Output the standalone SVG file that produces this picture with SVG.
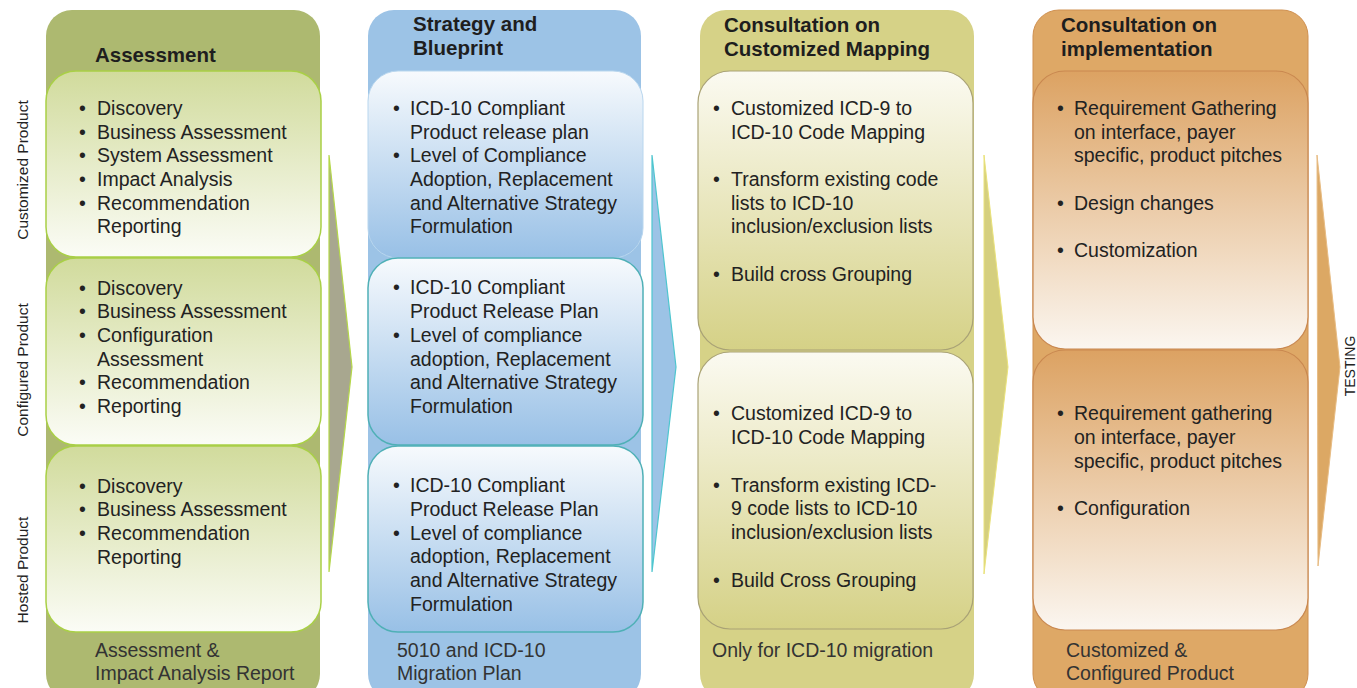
<svg xmlns="http://www.w3.org/2000/svg" width="1357" height="688" viewBox="0 0 1357 688">
<defs>
<linearGradient id="gGreen" x1="0" y1="0" x2="0" y2="1"><stop offset="0" stop-color="#d1db9c"/><stop offset="1" stop-color="#fbfcf6"/></linearGradient>
<linearGradient id="gBlue" x1="0" y1="0" x2="0" y2="1"><stop offset="0" stop-color="#f7fafd"/><stop offset="1" stop-color="#98c0e6"/></linearGradient>
<linearGradient id="gOlive" x1="0" y1="0" x2="0" y2="1"><stop offset="0" stop-color="#fbfaf1"/><stop offset="1" stop-color="#d5d186"/></linearGradient>
<linearGradient id="gOrange" x1="0" y1="0" x2="0" y2="1"><stop offset="0" stop-color="#dca262"/><stop offset="1" stop-color="#fbf6f0"/></linearGradient>
</defs>
<style>
.hd{font-family:"Liberation Sans",Arial,sans-serif;font-weight:bold;font-size:20.5px;fill:#1e1e1e}
.tx{font-family:"Liberation Sans",Arial,sans-serif;font-size:19.5px;fill:#222}
.ft{font-family:"Liberation Sans",Arial,sans-serif;font-size:19.5px;fill:#333}
.side{font-family:"Liberation Sans",Arial,sans-serif;font-size:15.5px;fill:#222}
.cG{fill:url(#gGreen);stroke:#a9d046;stroke-width:1.5}
.cB{fill:url(#gBlue);stroke:#4fb0b6;stroke-width:1.5}
.cB0{fill:url(#gBlue);stroke:#b8d6ee;stroke-width:1}
.cO{fill:url(#gOlive);stroke:#a9a276;stroke-width:1.2}
.cR{fill:url(#gOrange);stroke:#c98850;stroke-width:1.2}
</style>
<rect width="1357" height="688" fill="#ffffff"/>

<g id="side-labels">
<text class="side" transform="translate(28,170) rotate(-90)" text-anchor="middle">Customized Product</text>
<text class="side" transform="translate(28,370) rotate(-90)" text-anchor="middle">Configured Product</text>
<text class="side" transform="translate(28,570) rotate(-90)" text-anchor="middle">Hosted Product</text>
<text class="side" transform="translate(1355,366) rotate(-90)" text-anchor="middle" style="font-size:14px">TESTING</text>
</g>

<g id="connectors">
<polygon points="329,155 352,367 329,572" fill="#a8a78f" stroke="#b5d84a" stroke-width="1.2"/>
<polygon points="652,155 676,367 652,572" fill="#9cc3e6" stroke="#4ec6cf" stroke-width="1.2"/>
<polygon points="984,155 1008,367 984,574" fill="#d5cf7e" stroke="#e9e27a" stroke-width="1"/>
<polygon points="1317,155 1340,367 1318,566" fill="#dca864" stroke="#e7bc84" stroke-width="1"/>
</g>

<g id="col-assessment">
<rect x="46" y="10" width="274" height="690" rx="26" fill="#adb970"/>
<text class="hd" x="95" y="62">Assessment</text>
<g id="assess-customized">
<rect class="cG" x="46" y="71" width="275" height="186" rx="30"/>
<text class="tx"><tspan x="79" y="115">•</tspan><tspan x="97" y="115">Discovery</tspan><tspan x="79" y="139">•</tspan><tspan x="97" y="139">Business Assessment</tspan><tspan x="79" y="162">•</tspan><tspan x="97" y="162">System Assessment</tspan><tspan x="79" y="186">•</tspan><tspan x="97" y="186">Impact Analysis</tspan><tspan x="79" y="210">•</tspan><tspan x="97" y="210">Recommendation</tspan><tspan x="97" y="233">Reporting</tspan></text>
</g>
<g id="assess-configured">
<rect class="cG" x="46" y="258" width="275" height="187" rx="30"/>
<text class="tx"><tspan x="79" y="295">•</tspan><tspan x="97" y="295">Discovery</tspan><tspan x="79" y="318">•</tspan><tspan x="97" y="318">Business Assessment</tspan><tspan x="79" y="342">•</tspan><tspan x="97" y="342">Configuration</tspan><tspan x="97" y="366">Assessment</tspan><tspan x="79" y="389">•</tspan><tspan x="97" y="389">Recommendation</tspan><tspan x="79" y="413">•</tspan><tspan x="97" y="413">Reporting</tspan></text>
</g>
<g id="assess-hosted">
<rect class="cG" x="46" y="446" width="275" height="186" rx="30"/>
<text class="tx"><tspan x="79" y="493">•</tspan><tspan x="97" y="493">Discovery</tspan><tspan x="79" y="516">•</tspan><tspan x="97" y="516">Business Assessment</tspan><tspan x="79" y="540">•</tspan><tspan x="97" y="540">Recommendation</tspan><tspan x="97" y="564">Reporting</tspan></text>
</g>
<text class="ft"><tspan x="95" y="657">Assessment &amp;</tspan><tspan x="95" y="680">Impact Analysis Report</tspan></text>
</g>

<g id="col-strategy">
<rect x="368" y="10" width="273" height="690" rx="26" fill="#9cc3e6"/>
<text class="hd"><tspan x="413" y="31">Strategy and</tspan><tspan x="413" y="55">Blueprint</tspan></text>
<g id="strategy-customized">
<rect class="cB0" x="368" y="71" width="275" height="187" rx="30"/>
<text class="tx"><tspan x="393" y="115">•</tspan><tspan x="410" y="115">ICD-10 Compliant</tspan><tspan x="410" y="139">Product release plan</tspan><tspan x="393" y="162">•</tspan><tspan x="410" y="162">Level of Compliance</tspan><tspan x="410" y="186">Adoption, Replacement</tspan><tspan x="410" y="210">and Alternative Strategy</tspan><tspan x="410" y="233">Formulation</tspan></text>
</g>
<g id="strategy-configured">
<rect class="cB" x="368" y="258" width="275" height="187" rx="30"/>
<text class="tx"><tspan x="393" y="294">•</tspan><tspan x="410" y="294">ICD-10 Compliant</tspan><tspan x="410" y="318">Product Release Plan</tspan><tspan x="393" y="342">•</tspan><tspan x="410" y="342">Level of compliance</tspan><tspan x="410" y="366">adoption, Replacement</tspan><tspan x="410" y="389">and Alternative Strategy</tspan><tspan x="410" y="413">Formulation</tspan></text>
</g>
<g id="strategy-hosted">
<rect class="cB" x="368" y="446" width="275" height="186" rx="30"/>
<text class="tx"><tspan x="393" y="492">•</tspan><tspan x="410" y="492">ICD-10 Compliant</tspan><tspan x="410" y="516">Product Release Plan</tspan><tspan x="393" y="540">•</tspan><tspan x="410" y="540">Level of compliance</tspan><tspan x="410" y="563">adoption, Replacement</tspan><tspan x="410" y="587">and Alternative Strategy</tspan><tspan x="410" y="611">Formulation</tspan></text>
</g>
<text class="ft"><tspan x="397" y="657">5010 and ICD-10</tspan><tspan x="397" y="680">Migration Plan</tspan></text>
</g>

<g id="col-mapping">
<rect x="700" y="10" width="274" height="690" rx="26" fill="#d6d287"/>
<text class="hd"><tspan x="724" y="32">Consultation on</tspan><tspan x="724" y="56">Customized Mapping</tspan></text>
<g id="mapping-customized">
<rect class="cO" x="698" y="71" width="275" height="279" rx="32"/>
<text class="tx"><tspan x="713" y="115">•</tspan><tspan x="731" y="115">Customized ICD-9 to</tspan><tspan x="731" y="139">ICD-10 Code Mapping</tspan><tspan x="713" y="186">•</tspan><tspan x="731" y="186">Transform existing code</tspan><tspan x="731" y="210">lists to ICD-10</tspan><tspan x="731" y="233">inclusion/exclusion lists</tspan><tspan x="713" y="281">•</tspan><tspan x="731" y="281">Build cross Grouping</tspan></text>
</g>
<g id="mapping-configured">
<rect class="cO" x="698" y="352" width="275" height="277" rx="32"/>
<text class="tx"><tspan x="713" y="420">•</tspan><tspan x="731" y="420">Customized ICD-9 to</tspan><tspan x="731" y="444">ICD-10 Code Mapping</tspan><tspan x="713" y="492">•</tspan><tspan x="731" y="492">Transform existing ICD-</tspan><tspan x="731" y="515">9 code lists to ICD-10</tspan><tspan x="731" y="539">inclusion/exclusion lists</tspan><tspan x="713" y="587">•</tspan><tspan x="731" y="587">Build Cross Grouping</tspan></text>
</g>
<text class="ft" x="712" y="657">Only for ICD-10 migration</text>
</g>

<g id="col-implementation">
<rect x="1033" y="10" width="275" height="690" rx="26" fill="#dea866" stroke="#cf9050" stroke-width="1"/>
<text class="hd"><tspan x="1061" y="32">Consultation on</tspan><tspan x="1061" y="56">implementation</tspan></text>
<g id="impl-customized">
<rect class="cR" x="1033" y="71" width="275" height="278" rx="32"/>
<text class="tx"><tspan x="1057" y="115">•</tspan><tspan x="1074" y="115">Requirement Gathering</tspan><tspan x="1074" y="139">on interface, payer</tspan><tspan x="1074" y="162">specific, product pitches</tspan><tspan x="1057" y="210">•</tspan><tspan x="1074" y="210">Design changes</tspan><tspan x="1057" y="257">•</tspan><tspan x="1074" y="257">Customization</tspan></text>
</g>
<g id="impl-configured">
<rect class="cR" x="1033" y="350" width="275" height="280" rx="32"/>
<text class="tx"><tspan x="1057" y="420">•</tspan><tspan x="1074" y="420">Requirement gathering</tspan><tspan x="1074" y="444">on interface, payer</tspan><tspan x="1074" y="468">specific, product pitches</tspan><tspan x="1057" y="515">•</tspan><tspan x="1074" y="515">Configuration</tspan></text>
</g>
<text class="ft"><tspan x="1066" y="657">Customized &amp;</tspan><tspan x="1066" y="680">Configured Product</tspan></text>
</g>
</svg>
